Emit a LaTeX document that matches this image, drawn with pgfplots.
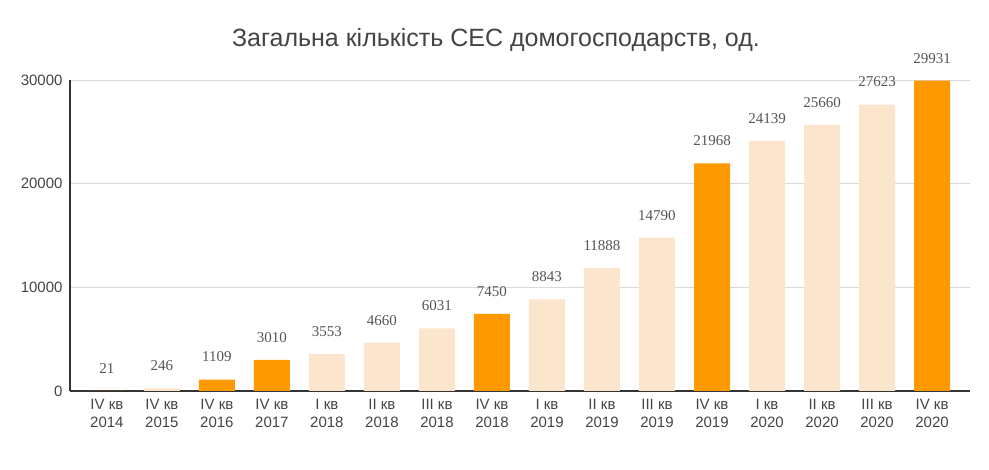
\documentclass[border=0pt]{standalone}
\usepackage{pgfplots}
\pgfplotsset{compat=1.18}
\usepackage{pgfplotstable}
\usepackage{fontspec}
\setmainfont{Liberation Sans}
\newfontfamily\serifv{Liberation Serif}
\definecolor{orng}{HTML}{FF9900}
\definecolor{peach}{HTML}{FCE5CD}
\definecolor{txt}{HTML}{444444}
\definecolor{vtxt}{HTML}{555555}
\definecolor{grd}{HTML}{D9D9D9}
\definecolor{axl}{HTML}{333333}

\pgfplotstableread{
x y
0 21
2 1109
3 3010
7 7450
11 21968
15 29931
}\orangedata
\pgfplotstableread{
x y
1 246
4 3553
5 4660
6 6031
8 8843
9 11888
10 14790
12 24139
13 25660
14 27623
}\peachdata

\begin{document}
\begin{tikzpicture}
\path[use as bounding box] (0,0) rectangle (989bp,470bp);
\node[text=txt,font=\fontsize{25bp}{29bp}\selectfont] at (496bp,430bp) {Загальна кількість СЕС домогосподарств, од.};
\begin{axis}[
  at={(70bp,79bp)}, anchor=south west,
  scale only axis, width=900bp, height=311bp,
  ymin=0, ymax=30000,
  xmin=-0.67, xmax=15.69,
  ytick={0,10000,20000,30000},
  scaled y ticks=false,
  /pgf/number format/1000 sep={},
  /pgf/number format/assume math mode=true,
  axis lines=left,
  axis line style={axl, line width=1.2bp, -},
  ymajorgrids, grid style={grd, line width=0.8bp},
  major tick length=0pt,
  xtick={0,...,15},
  xticklabels={{IV кв\\2014},{IV кв\\2015},{IV кв\\2016},{IV кв\\2017},{I кв\\2018},{II кв\\2018},{III кв\\2018},{IV кв\\2018},{I кв\\2019},{II кв\\2019},{III кв\\2019},{IV кв\\2019},{I кв\\2020},{II кв\\2020},{III кв\\2020},{IV кв\\2020}},
  x tick label style={align=center, text=txt, font=\fontsize{15bp}{17.5bp}\selectfont, yshift=-5bp},
  y tick label style={text=txt, font=\fontsize{15bp}{18bp}\selectfont, xshift=-4bp},
  ybar, bar width=36bp, bar shift=0pt,
  clip=false,
  nodes near coords={\pgfmathprintnumber[1000 sep={},fixed,precision=0]{\pgfplotspointmeta}},
  nodes near coords style={font=\serifv\fontsize{15bp}{18bp}\selectfont, text=vtxt, anchor=south, yshift=14bp},
]
\addplot[fill=orng, draw=none] table[x=x,y=y] {\orangedata};
\addplot[fill=peach, draw=none] table[x=x,y=y] {\peachdata};
\end{axis}
\end{tikzpicture}
\end{document}
